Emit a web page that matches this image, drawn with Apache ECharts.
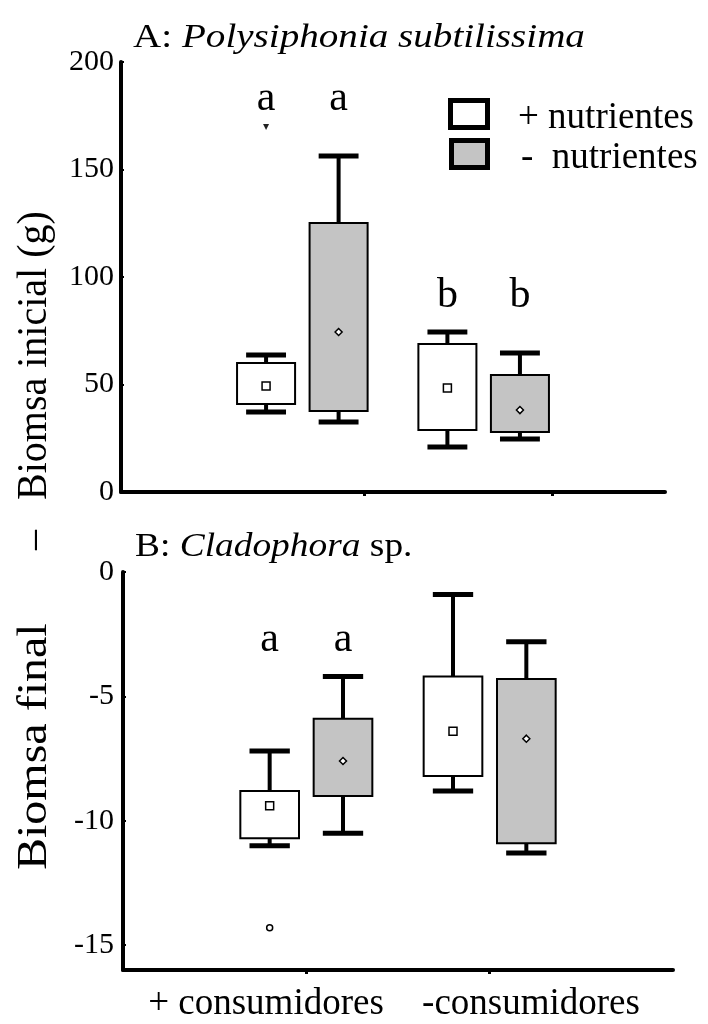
<!DOCTYPE html>
<html>
<head>
<meta charset="utf-8">
<script src="https://cdn.jsdelivr.net/npm/echarts@6/dist/echarts.min.js"></script>
<style>
  html, body { margin: 0; padding: 0; background: #fff; }
  #chart { width: 708px; height: 1024px; }
</style>
</head>
<body>
<div id="chart"></div>
<script>
// Groups on the x axis (1 = + consumidores, 2 = - consumidores)
const groups = [1, 2];
const groupLabels = ['+ consumidores', '-consumidores'];
const treatmentLabels = ['+ nutrientes', '-  nutrientes'];
const yTitleParts = ['Biomsa final', '\u2013', 'Biomsa inicial (g)'];

// A: Polysiphonia subtilissima — boxes as [min, q1, q3, max] per group
const polyBoxPlus = [[37.2, 40.9, 60.0, 63.7], [20.9, 28.8, 68.8, 74.4]];
const polyBoxMinus = [[32.6, 37.7, 125.1, 156.3], [24.7, 27.9, 54.4, 64.7]];
const polyMeanPlus = [49.3, 48.4];
const polyMeanMinus = [74.4, 38.1];
const polyOutlierPlus = [[0, 169.8]];          // [group index, value]
const polyLetters = ['a', 'a', 'b', 'b'];      // +nut g1, -nut g1, +nut g2, -nut g2
const polyLetterY = [183, 183, 91, 91];
const polyTicks = [0, 50, 100, 150, 200];
const polyGroupTicks = [1.34, 2.38];

// B: Cladophora sp.
const cladBoxPlus = [[-11.0, -10.7, -8.8, -7.2], [-8.8, -8.2, -4.2, -0.9]];
const cladBoxMinus = [[-10.5, -9.0, -5.9, -4.2], [-11.3, -10.9, -4.3, -2.8]];
const cladMeanPlus = [-9.4, -6.4];
const cladMeanMinus = [-7.6, -6.7];
const cladOutlierPlus = [[0, -14.3]];
const cladLetters = ['a', 'a', 'b', 'b'];
const cladLetterY = [-2.75, -2.75, 0.05, 0.05];
const cladTicks = [-15, -10, -5, 0];
const cladGroupTicks = [1, 2];

const SERIF = "'Liberation Serif', 'Times New Roman', serif";
const GREY = '#c4c4c4';
const OFFSET = 0.2;   // horizontal shift of each treatment within a group
const BOX_W = 0.32;
const CAP_W = 0.22;

function boxRenderer(fill) {
  return function (params, api) {
    const x = api.value(0);
    const lo = api.coord([x, api.value(1)]);
    const q1 = api.coord([x, api.value(2)]);
    const q3 = api.coord([x, api.value(3)]);
    const hi = api.coord([x, api.value(4)]);
    const bw = api.size([BOX_W, 0])[0];
    const cw = api.size([CAP_W, 0])[0];
    const cx = lo[0];
    const stroke = { stroke: '#000', lineWidth: 4 };
    return {
      type: 'group',
      children: [
        { type: 'line', shape: { x1: cx, y1: hi[1], x2: cx, y2: q3[1] }, style: stroke },
        { type: 'line', shape: { x1: cx, y1: q1[1], x2: cx, y2: lo[1] }, style: stroke },
        { type: 'line', shape: { x1: cx - cw / 2, y1: hi[1], x2: cx + cw / 2, y2: hi[1] }, style: { stroke: '#000', lineWidth: 5 } },
        { type: 'line', shape: { x1: cx - cw / 2, y1: lo[1], x2: cx + cw / 2, y2: lo[1] }, style: { stroke: '#000', lineWidth: 5 } },
        { type: 'rect', shape: { x: cx - bw / 2, y: q3[1], width: bw, height: q1[1] - q3[1] },
          style: { fill: fill, stroke: '#000', lineWidth: 2 } }
      ]
    };
  };
}

function boxData(boxes, shift) {
  return boxes.map((b, i) => [groups[i] + shift].concat(b));
}
function pointData(vals, shift) {
  return vals.map((v, i) => [groups[i] + shift, v]);
}
function letterData(letters, ys) {
  return letters.map((t, k) => [groups[Math.floor(k / 2)] + (k % 2 === 0 ? -OFFSET : OFFSET), ys[k], t]);
}

function panelSeries(idx, boxPlus, boxMinus, meanPlus, meanMinus, outliers, outlierSymbol, letters, letterY) {
  const axes = { xAxisIndex: idx, yAxisIndex: idx };
  return [
    Object.assign({ type: 'custom', renderItem: boxRenderer('#fff'), encode: { x: 0, y: [1, 2, 3, 4] },
      data: boxData(boxPlus, -OFFSET), z: 2 }, axes),
    Object.assign({ type: 'custom', renderItem: boxRenderer(GREY), encode: { x: 0, y: [1, 2, 3, 4] },
      data: boxData(boxMinus, OFFSET), z: 2 }, axes),
    Object.assign({ type: 'scatter', symbol: 'rect', symbolSize: 8, data: pointData(meanPlus, -OFFSET),
      itemStyle: { color: '#fff', borderColor: '#000', borderWidth: 1.5, opacity: 1 }, z: 5 }, axes),
    Object.assign({ type: 'scatter', symbol: 'diamond', symbolSize: 7, data: pointData(meanMinus, OFFSET),
      itemStyle: { color: '#fff', borderColor: '#000', borderWidth: 1.5, opacity: 1 }, z: 5 }, axes),
    Object.assign({ type: 'scatter', symbol: outlierSymbol.symbol, symbolSize: outlierSymbol.size,
      symbolRotate: outlierSymbol.rotate || 0,
      data: outliers.map(o => [groups[o[0]] - OFFSET, o[1]]),
      itemStyle: Object.assign({ opacity: 1 }, outlierSymbol.style), z: 5 }, axes),
    Object.assign({ type: 'scatter', symbolSize: 1, data: letterData(letters, letterY),
      itemStyle: { color: 'rgba(0,0,0,0)', opacity: 1 },
      label: { show: true, position: 'inside', formatter: p => p.value[2],
        fontFamily: SERIF, fontSize: 42, color: '#000', opacity: 1, textBorderWidth: 0 }, z: 6 }, axes)
  ];
}

function xAxisCfg(gridIndex, tickValues) {
  return {
    gridIndex, type: 'value', min: 0, max: 3,
    axisLine: { show: true, onZero: false, lineStyle: { color: '#000', width: 4 } },
    axisTick: { show: true, customValues: tickValues, length: 4, lineStyle: { color: '#000', width: 3 } },
    axisLabel: { show: false },
    splitLine: { show: false }
  };
}
function yAxisCfg(gridIndex, min, max, ticks, margin) {
  return {
    gridIndex, type: 'value', min, max,
    axisLine: { show: true, onZero: false, lineStyle: { color: '#000', width: 4 } },
    axisTick: { show: true, inside: true, length: 3, customValues: ticks, lineStyle: { color: '#000', width: 2 } },
    axisLabel: { customValues: ticks, fontFamily: SERIF, fontSize: 30, color: '#000', margin },
    splitLine: { show: false }
  };
}

function yTitle(text, x, y, align, stretch) {
  return { type: 'text', x, y, rotation: Math.PI / 2, scaleX: stretch, scaleY: 1.08,
    style: { text, textAlign: align, textVerticalAlign: 'middle', fontFamily: SERIF, fontSize: 40, fill: '#000' } };
}

const chart = echarts.init(document.getElementById('chart'), null, { renderer: 'canvas' });
chart.setOption({
  animation: false,
  backgroundColor: '#fff',
  grid: [
    { left: 121, top: 62, width: 544, height: 430 },
    { left: 123, top: 572, width: 550, height: 398 }
  ],
  xAxis: [xAxisCfg(0, polyGroupTicks), xAxisCfg(1, cladGroupTicks)],
  yAxis: [yAxisCfg(0, 0, 200, polyTicks, 7), yAxisCfg(1, -16, 0, cladTicks, 9)],
  series: [].concat(
    panelSeries(0, polyBoxPlus, polyBoxMinus, polyMeanPlus, polyMeanMinus, polyOutlierPlus,
      { symbol: 'triangle', size: 6, rotate: 180, style: { color: '#222' } }, polyLetters, polyLetterY),
    panelSeries(1, cladBoxPlus, cladBoxMinus, cladMeanPlus, cladMeanMinus, cladOutlierPlus,
      { symbol: 'circle', size: 6, style: { color: '#fff', borderColor: '#000', borderWidth: 1.5 } }, cladLetters, cladLetterY)
  ),
  graphic: [
    { type: 'text', x: 359, y: 38, scaleX: 1.15,
      style: { text: '{n|A: }{i|Polysiphonia subtilissima}', textAlign: 'center', textVerticalAlign: 'middle',
        rich: { n: { fontFamily: SERIF, fontSize: 34, fill: '#000' },
                i: { fontFamily: SERIF, fontSize: 34, fontStyle: 'italic', fill: '#000' } } } },
    { type: 'text', x: 135, y: 547, scaleX: 1.1,
      style: { text: '{n|B: }{i|Cladophora}{n| sp.}', textAlign: 'left', textVerticalAlign: 'middle',
        rich: { n: { fontFamily: SERIF, fontSize: 34, fill: '#000' },
                i: { fontFamily: SERIF, fontSize: 34, fontStyle: 'italic', fill: '#000' } } } },
    yTitle(yTitleParts[0], 35, 870, 'left', 1.2),
    yTitle(yTitleParts[1], 35, 540, 'center', 1),
    yTitle(yTitleParts[2], 35, 500, 'left', 1),
    { type: 'text', x: 266, y: 1004,
      style: { text: groupLabels[0], textAlign: 'center', textVerticalAlign: 'middle', fontFamily: SERIF, fontSize: 37, fill: '#000' } },
    { type: 'text', x: 531, y: 1004,
      style: { text: groupLabels[1], textAlign: 'center', textVerticalAlign: 'middle', fontFamily: SERIF, fontSize: 37, fill: '#000' } },
    { type: 'rect', shape: { x: 450.5, y: 100.5, width: 37, height: 27 }, style: { fill: '#fff', stroke: '#000', lineWidth: 5 } },
    { type: 'rect', shape: { x: 451.5, y: 140.5, width: 36, height: 27 }, style: { fill: GREY, stroke: '#000', lineWidth: 5 } },
    { type: 'text', x: 518, y: 118,
      style: { text: treatmentLabels[0], textAlign: 'left', textVerticalAlign: 'middle', fontFamily: SERIF, fontSize: 37, fill: '#000' } },
    { type: 'text', x: 521, y: 158,
      style: { text: treatmentLabels[1], textAlign: 'left', textVerticalAlign: 'middle', fontFamily: SERIF, fontSize: 37, fill: '#000' } }
  ]
});
</script>
</body>
</html>
